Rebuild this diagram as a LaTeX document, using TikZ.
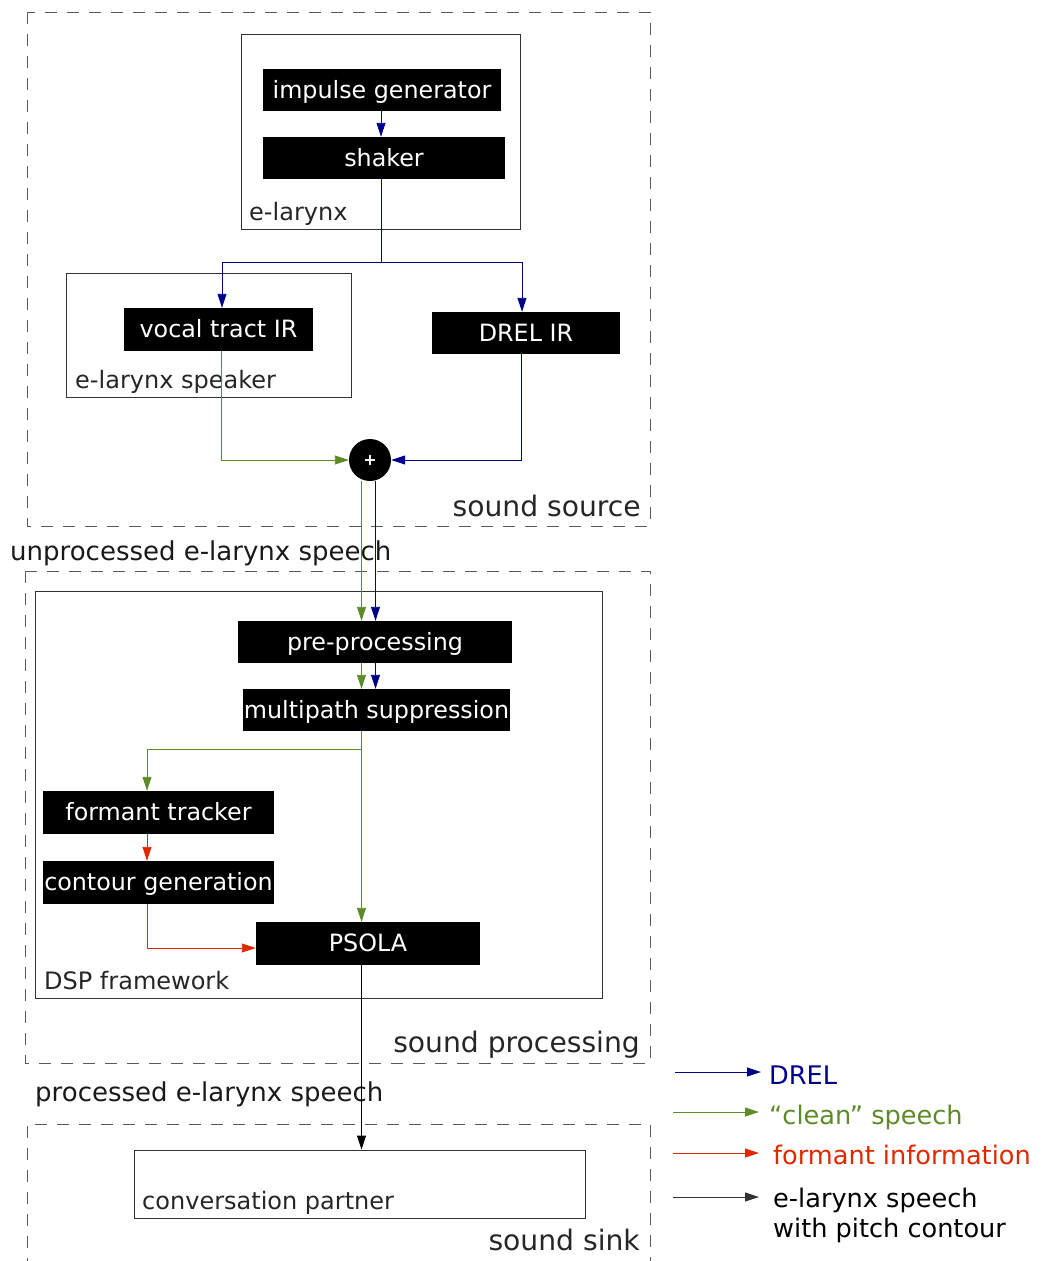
\documentclass[tikz,border=0pt]{standalone}
\usepackage{fontspec}
\setmainfont{DejaVu Sans}
\usetikzlibrary{arrows.meta}
\definecolor{drel}{RGB}{0,0,139}
\definecolor{clean}{RGB}{94,138,42}
\definecolor{formant}{RGB}{224,40,0}
\definecolor{frame}{RGB}{50,50,50}
\begin{document}
\begin{tikzpicture}[x=1pt,y=-1pt,
  blk/.style={fill=black, text=white, inner sep=0pt, text height=19.5pt, text depth=3pt,
              font=\fontsize{23.8}{28}\selectfont},
  cont/.style={draw=frame, line width=0.9pt, inner sep=0pt},
  zone/.style={draw=frame!80, line width=0.9pt, dash pattern=on 12pt off 10pt},
  boxlabel/.style={inner sep=0pt, anchor=base west, font=\fontsize{24}{28}\selectfont, text=black!85},
  zonelabel/.style={inner sep=0pt, anchor=base east, font=\fontsize{28.2}{32}\selectfont, text=black!85},
  flowlabel/.style={inner sep=0pt, anchor=base west, font=\fontsize{26}{30}\selectfont, text=black!90},
  legtext/.style={inner sep=0pt, anchor=base west, font=\fontsize{25.6}{30}\selectfont},
  arr/.style={line width=0.9pt, -{Triangle[length=14pt,width=9pt]}},
  ln/.style={line width=0.9pt}]
\useasboundingbox (0,0) rectangle (1044,1261);

% zones
\draw[zone] (27,12) rectangle (650,526);
\draw[zone] (25,571) rectangle (650,1063);
\draw[zone] (27,1270) -- (27,1124) -- (650,1124) -- (650,1270);
\node[zonelabel] (lsource) at (641,516) {sound source};
\node[zonelabel] (lproc) at (640,1052) {sound processing};
\node[zonelabel] (lsink) at (640,1250) {sound sink};
\node[flowlabel] (lunproc) at (10,560) {unprocessed e-larynx speech};
\node[flowlabel] (lprocd) at (35,1101) {processed e-larynx speech};

% containers
\node[cont, minimum width=279pt, minimum height=195pt] (elarynx) at (380.5,131.5) {};
\node[boxlabel] (lelarynx) at (249,220) {e-larynx};
\node[cont, minimum width=285pt, minimum height=124pt] (speaker) at (208.5,335) {};
\node[boxlabel] (lspeaker) at (75,388) {e-larynx speaker};
\node[cont, minimum width=567pt, minimum height=407pt] (dsp) at (318.5,794.5) {};
\node[boxlabel] (ldsp) at (44,989) {DSP framework};
\node[cont, minimum width=451pt, minimum height=68pt] (partner) at (359.5,1184) {};
\node[boxlabel] (lpartner) at (142,1209) {conversation partner};

% processing blocks
\node[blk, minimum width=238pt, minimum height=42pt] (imp) at (382,90) {impulse generator};
\node[blk, minimum width=242pt, minimum height=42pt] (shaker) at (384,158) {shaker};
\node[blk, minimum width=189pt, minimum height=43pt] (vt) at (218.5,329.5) {vocal tract IR};
\node[blk, minimum width=188pt, minimum height=42pt] (drelir) at (526,333) {DREL IR};
\node[circle, fill=black, minimum size=42pt, inner sep=0pt, text=white,
      font=\fontsize{16}{16}\selectfont\bfseries] (add) at (370,460) {+};
\node[blk, minimum width=274pt, minimum height=42pt] (pre) at (375,642) {pre-processing};
\node[blk, minimum width=267pt, minimum height=42pt] (mps) at (376.5,710) {multipath suppression};
\node[blk, minimum width=231pt, minimum height=43pt] (ft) at (158.5,812.5) {formant tracker};
\node[blk, minimum width=231pt, minimum height=43pt] (cg) at (158.5,882.5) {contour generation};
\node[blk, minimum width=224pt, minimum height=43pt] (psola) at (368,943.5) {PSOLA};

% routing points
\coordinate (split) at (381,262);
\coordinate (gx) at (361.5,0);
\coordinate (bx) at (375.5,0);
\coordinate (fx) at (147,0);
\coordinate (branch) at (361.5,749);

% excitation path
\draw[arr, drel] (imp.south -| split) -- (shaker.north -| split);
\draw[ln, drel] (shaker.south -| split) -- (split);
\draw[arr, drel] (split) -| ([xshift=3.5pt]vt.north);
\draw[arr, drel] (split) -| ([xshift=-4pt]drelir.north);
\draw[arr, clean] ([xshift=3pt]vt.south) |- (add.west);
\draw[arr, drel] ([xshift=-5pt]drelir.south) |- (add.east);

% processing path
\draw[arr, clean] (add.south -| gx) -- (pre.north -| gx);
\draw[arr, drel] (add.south -| bx) -- (pre.north -| bx);
\draw[arr, clean] (pre.south -| gx) -- (mps.north -| gx);
\draw[arr, drel] (pre.south -| bx) -- (mps.north -| bx);
\draw[ln, clean] (mps.south -| gx) -- (branch);
\draw[arr, clean] (branch) -| (ft.north -| fx);
\draw[arr, clean] (branch) -- (psola.north -| gx);
\draw[arr, formant] (ft.south -| fx) -- (cg.north -| fx);
\draw[arr, formant] (cg.south -| fx) |- ([yshift=-4.5pt]psola.west);
\draw[arr, black] (psola.south -| gx) -- (partner.north -| gx);

% legend
\coordinate (k1a) at (675,1072); \coordinate (k1b) at (761,1072);
\coordinate (k2a) at (673,1112); \coordinate (k2b) at (759,1112);
\coordinate (k3a) at (673,1153); \coordinate (k3b) at (759,1153);
\coordinate (k4a) at (673,1197); \coordinate (k4b) at (759,1197);
\draw[arr, drel] (k1a) -- (k1b);
\draw[arr, clean] (k2a) -- (k2b);
\draw[arr, formant] (k3a) -- (k3b);
\draw[arr, black!80] (k4a) -- (k4b);
\node[legtext, text=drel] (kdrel) at (769,1084) {DREL};
\node[legtext, text=clean] (kclean) at (769,1124) {“clean” speech};
\node[legtext, text=formant] (kformant) at (773,1164) {formant information};
\node[legtext, text=black] (kout) at (773,1207) {e-larynx speech};
\node[legtext, text=black] (kout2) at (773,1237) {with pitch contour};
\end{tikzpicture}
\end{document}
